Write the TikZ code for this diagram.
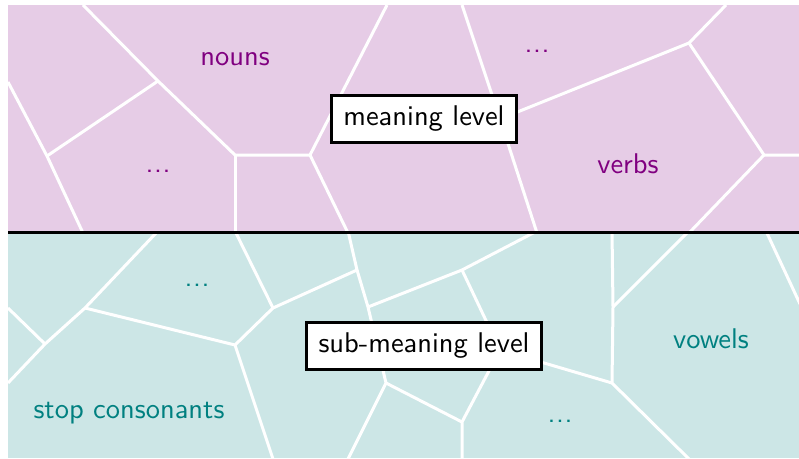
\documentclass[tikz,border=0pt]{standalone}
\usepackage{graphicx}
\definecolor{pinkbg}{RGB}{230,204,230}
\definecolor{tealbg}{RGB}{204,230,230}
\definecolor{violettext}{RGB}{128,0,128}
\definecolor{tealtext}{RGB}{0,128,128}
\newcommand{\bigsf}[1]{\scalebox{2.85}{\sffamily #1}}
\newcommand{\mydots}{{.}\kern0.02em{.}\kern0.02em{.}}
\tikzset{
  cell/.style={draw=white, line width=3pt},
  levelbox/.style={draw=black, fill=white, line width=3pt, inner xsep=12pt, inner ysep=0pt, minimum height=47pt},
  toplabel/.style={text=violettext, anchor=base, inner sep=0pt},
  botlabel/.style={text=tealtext, anchor=base, inner sep=0pt}
}
\begin{document}
\begin{tikzpicture}[x=1pt,y=-1pt]
\useasboundingbox (0,0) rectangle (799,458);
\fill[pinkbg] (8,5) rectangle (799,232);
\fill[tealbg] (8,232) rectangle (799,458);
\begin{scope}
\clip (8,5) rectangle (799,232);
\coordinate (A) at (158,81);
\coordinate (B) at (235,155);
\coordinate (C) at (47,156);
\coordinate (D) at (310,155);
\coordinate (E) at (689,43);
\coordinate (F) at (500,119);
\coordinate (G) at (764,155);
\draw[cell] (83,5) -- (A) -- (B) -- (D) -- (387,5);
\draw[cell] (A) -- (C);
\draw[cell] (8,82) -- (C) -- (83,233);
\draw[cell] (B) -- (235,233);
\draw[cell] (D) -- (348,233);
\draw[cell] (462,5) -- (F) -- (537,233);
\draw[cell] (F) -- (E) -- (726,5);
\draw[cell] (E) -- (G) -- (800,155);
\draw[cell] (G) -- (689,233);
\end{scope}
\begin{scope}
\clip (8,232) rectangle (799,458);
\coordinate (H) at (85,308);
\coordinate (I) at (45,344);
\coordinate (J) at (235,345);
\coordinate (K) at (273,308);
\coordinate (L) at (357,270);
\coordinate (M) at (368,307);
\coordinate (N) at (386,383);
\coordinate (O) at (462,270);
\coordinate (Q) at (500,350);
\coordinate (P) at (462,422);
\coordinate (R) at (612,383);
\coordinate (S) at (613,307);
\draw[cell] (158,231) -- (H) -- (I) -- (8,383);
\draw[cell] (8,308) -- (I);
\draw[cell] (H) -- (J) -- (K) -- (235,231);
\draw[cell] (K) -- (L) -- (348,231);
\draw[cell] (L) -- (M) -- (N) -- (348,459);
\draw[cell] (M) -- (O) -- (537,231);
\draw[cell] (O) -- (Q) -- (P) -- (462,459);
\draw[cell] (Q) -- (R);
\draw[cell] (N) -- (P);
\draw[cell] (J) -- (273,459);
\draw[cell] (612,231) -- (S) -- (R) -- (689,459);
\draw[cell] (689,231) -- (S);
\draw[cell] (766,231) -- (800,304);
\end{scope}
\draw[black, line width=3pt] (8,232) -- (799,232);
\node[levelbox] (meaning) at (424,118.5) {\bigsf{meaning level}};
\node[levelbox] (submeaning) at (424,345.5) {\bigsf{sub-meaning level}};
\node[toplabel] (nouns) at (235,65) {\bigsf{nouns}};
\node[toplabel] (dotsA) at (158,172) {\bigsf{\mydots}};
\node[toplabel] (dotsB) at (537,52) {\bigsf{\mydots}};
\node[toplabel] (verbs) at (628,173) {\bigsf{verbs}};
\node[botlabel] (dotsC) at (197,286) {\bigsf{\mydots}};
\node[botlabel] (stop) at (129,418) {\bigsf{stop consonants}};
\node[botlabel] (vowels) at (711,348) {\bigsf{vowels}};
\node[botlabel] (dotsD) at (560,422) {\bigsf{\mydots}};
\end{tikzpicture}
\end{document}
